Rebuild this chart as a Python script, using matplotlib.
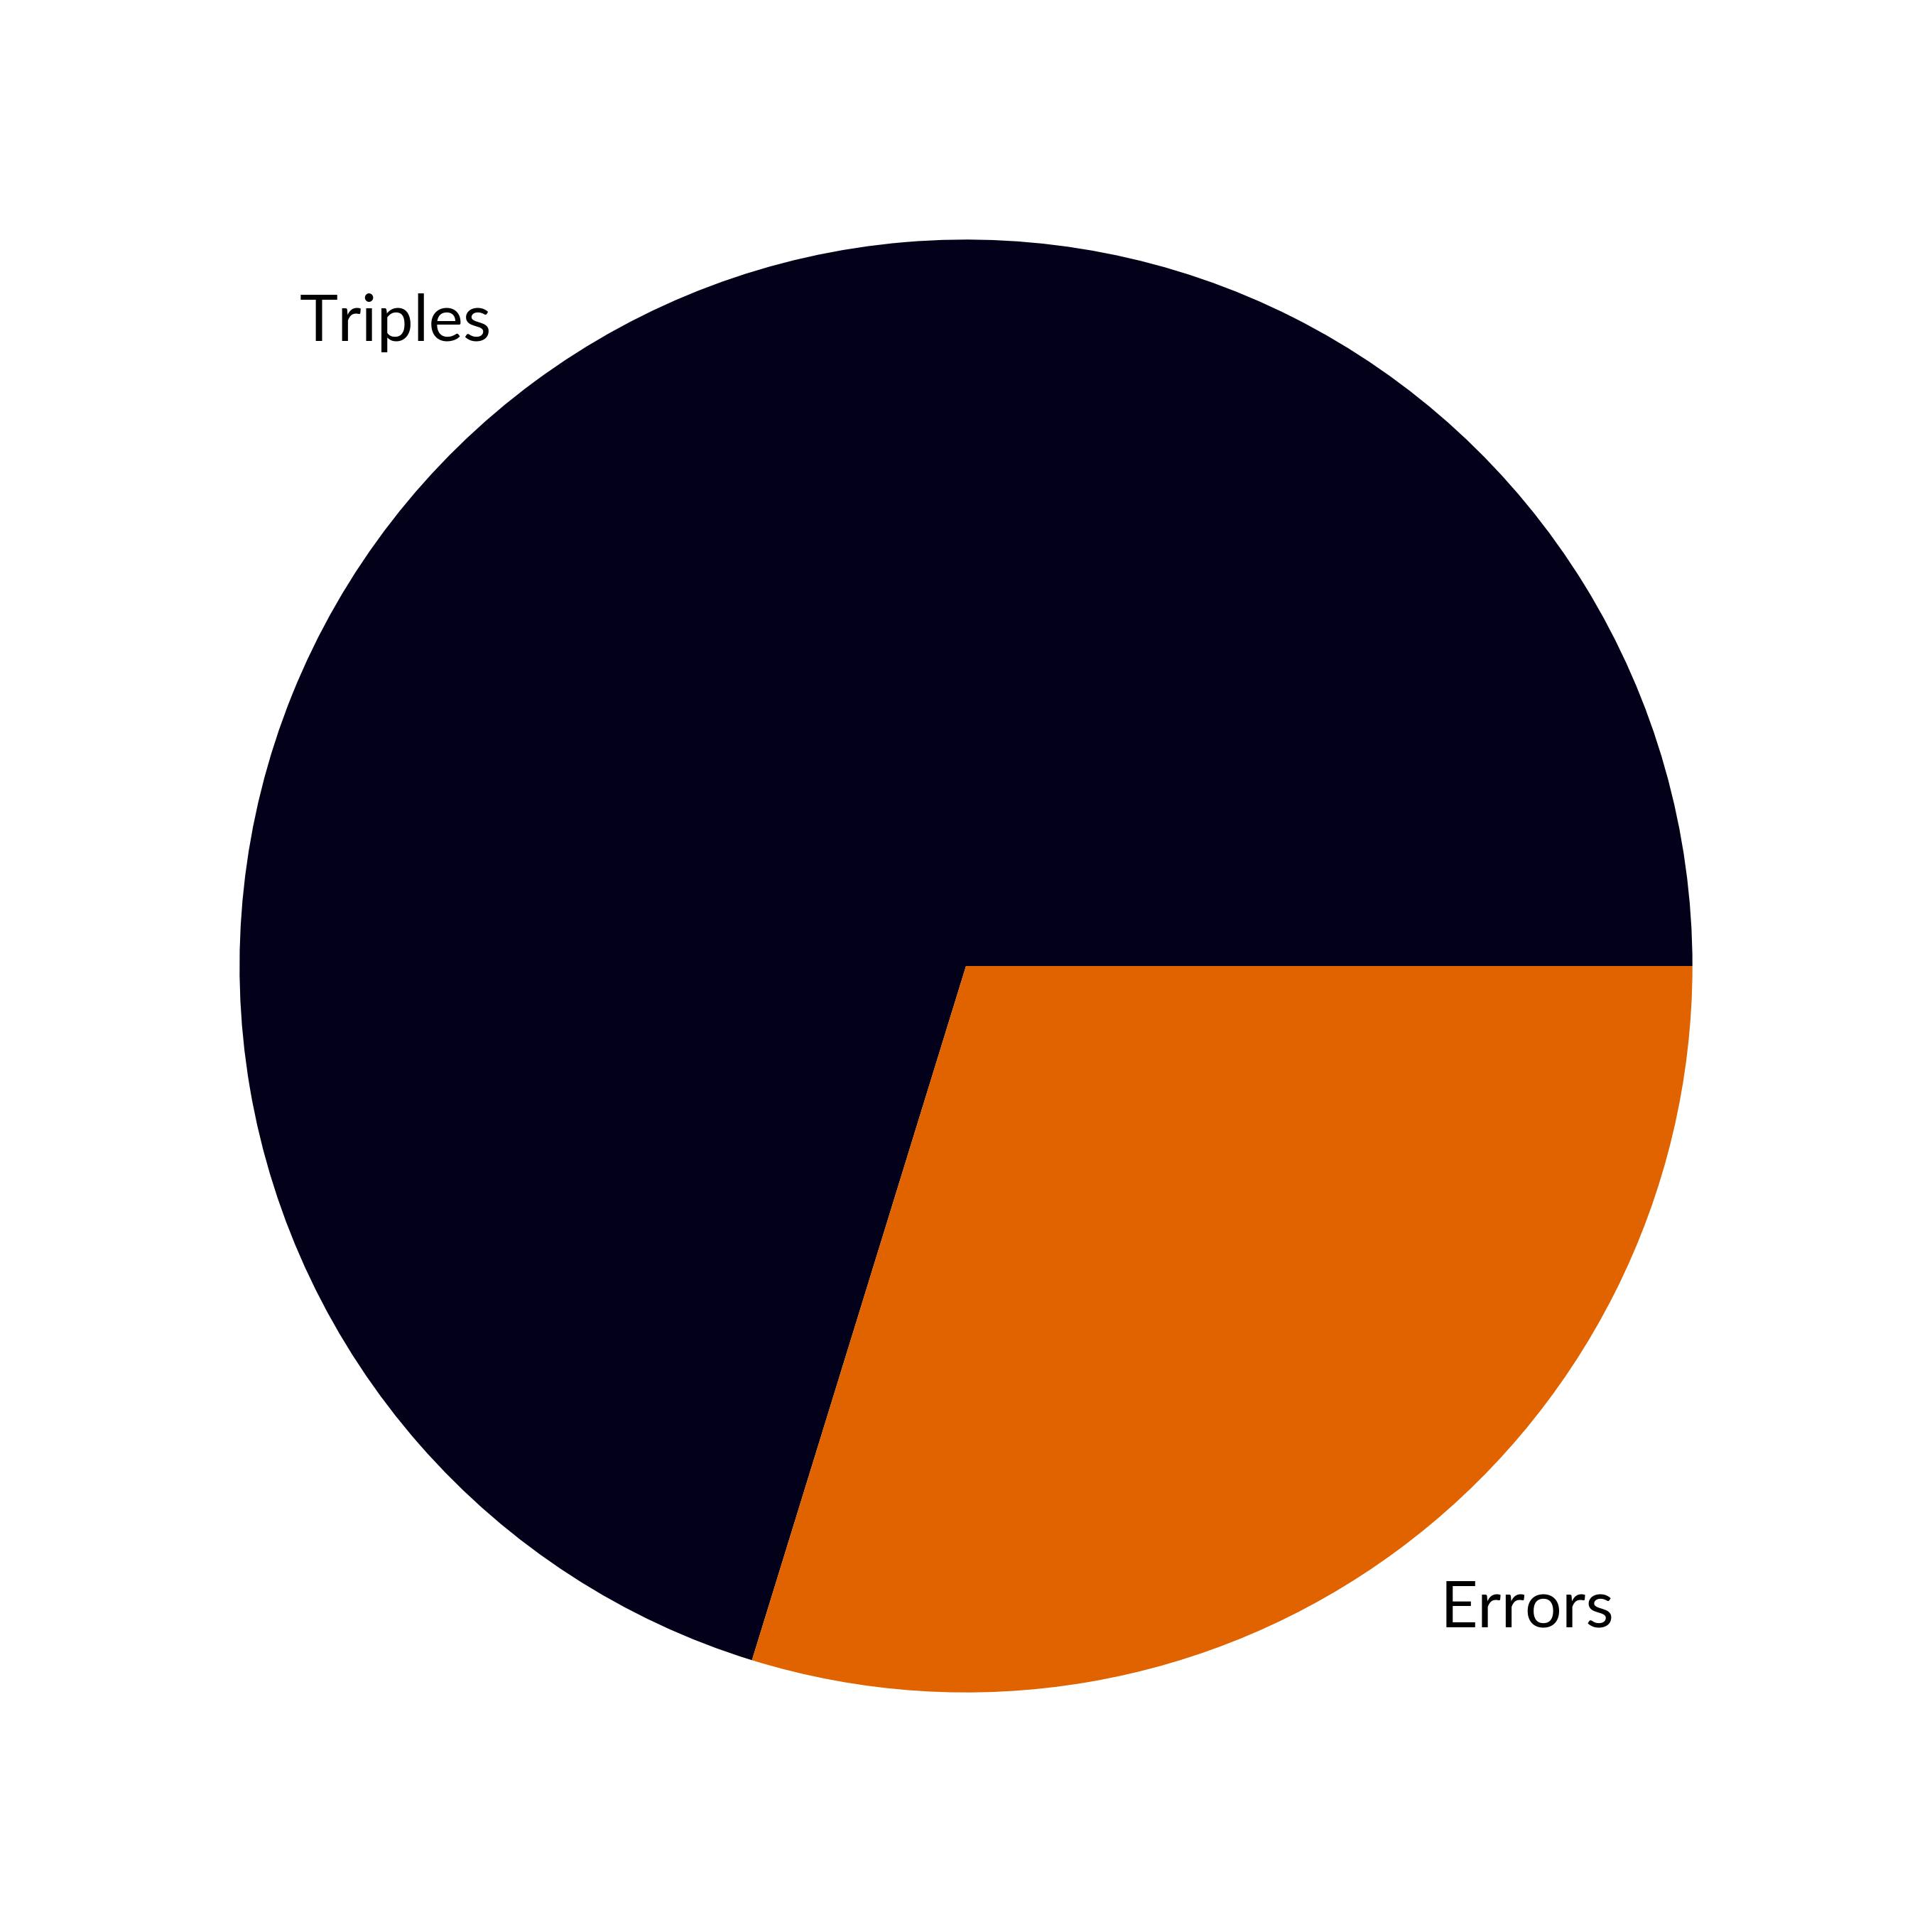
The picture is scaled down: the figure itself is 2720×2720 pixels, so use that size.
import matplotlib
matplotlib.use('Agg')
import matplotlib.pyplot as plt

labels = ['Triples', 'Errors']
values = [70.24, 29.76]
colors = ['#03001a', '#e06300']

plt.rcParams['font.family'] = ['Lato', 'DejaVu Sans']

fig = plt.figure(figsize=(13.6, 13.6), dpi=200)
ax = fig.add_axes([0.03, 0.03, 0.94, 0.94])
ax.pie(values, labels=labels, colors=colors, textprops={'fontsize': 33, 'color': 'black'})
ax.set_aspect('equal')

fig.savefig('out.png', dpi=200, facecolor='white')
